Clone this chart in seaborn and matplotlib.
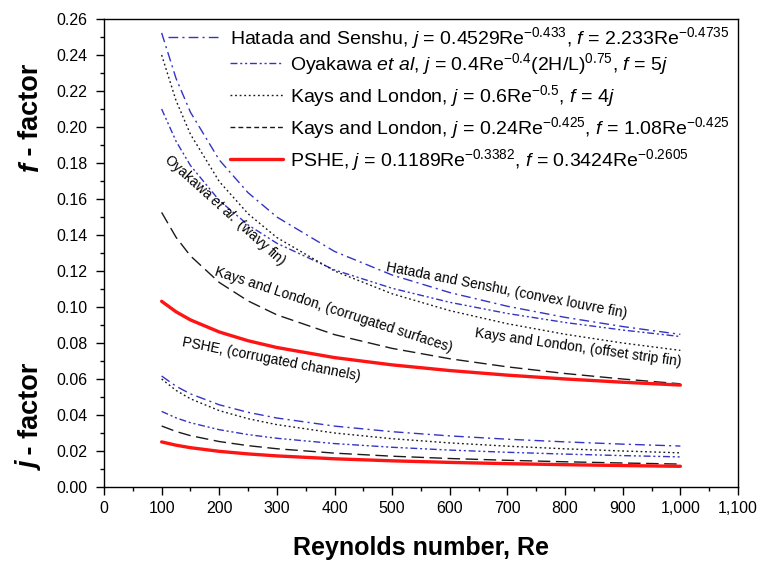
import matplotlib
matplotlib.use("Agg")
import matplotlib.pyplot as plt
import seaborn as sns
from matplotlib.ticker import MultipleLocator, FuncFormatter

# ---------------- data ----------------
Re = [100, 125, 150, 200, 250, 300, 400, 500, 600, 700, 800, 900, 1000]

hatada_j = [0.06166, 0.05598, 0.05174, 0.04567, 0.04147, 0.03832, 0.03383, 0.03072, 0.02838, 0.02655, 0.02506, 0.02381, 0.02275]
hatada_f = [0.25228, 0.22699, 0.20821, 0.18170, 0.16348, 0.14997, 0.13086, 0.11775, 0.10801, 0.10040, 0.09425, 0.08914, 0.08480]
oyakawa_j = [0.04200, 0.03841, 0.03571, 0.03183, 0.02911, 0.02707, 0.02412, 0.02207, 0.02051, 0.01928, 0.01828, 0.01744, 0.01672]
oyakawa_f = [0.2100, 0.1921, 0.1786, 0.1592, 0.1456, 0.1354, 0.1206, 0.1104, 0.1026, 0.0964, 0.0914, 0.0872, 0.0836]
kl_offset_j = [0.06000, 0.05367, 0.04899, 0.04243, 0.03795, 0.03464, 0.03000, 0.02683, 0.02449, 0.02268, 0.02121, 0.02000, 0.01897]
kl_offset_f = [0.24000, 0.21466, 0.19596, 0.16971, 0.15179, 0.13856, 0.12000, 0.10733, 0.09798, 0.09071, 0.08485, 0.08000, 0.07589]
kl_corr_j = [0.03390, 0.03083, 0.02853, 0.02525, 0.02297, 0.02125, 0.01881, 0.01711, 0.01583, 0.01483, 0.01401, 0.01333, 0.01274]
kl_corr_f = [0.15255, 0.13874, 0.12839, 0.11363, 0.10337, 0.09563, 0.08465, 0.07700, 0.07124, 0.06674, 0.06305, 0.05999, 0.05733]
pshe_j = [0.02505, 0.02323, 0.02184, 0.01981, 0.01838, 0.01728, 0.01567, 0.01454, 0.01367, 0.01297, 0.01240, 0.01191, 0.01150]
pshe_f = [0.10317, 0.09734, 0.09283, 0.08613, 0.08125, 0.07749, 0.07189, 0.06784, 0.06469, 0.06214, 0.06002, 0.05821, 0.05663]

legend_labels = [
    r"Hatada and Senshu, $j$ = 0.4529Re$^{-0.433}$, $f$ = 2.233Re$^{-0.4735}$",
    r"Oyakawa $et\ al$, $j$ = 0.4Re$^{-0.4}$(2H/L)$^{0.75}$, $f$ = 5$j$",
    r"Kays and London, $j$ = 0.6Re$^{-0.5}$, $f$ = 4$j$",
    r"Kays and London, $j$ = 0.24Re$^{-0.425}$, $f$ = 1.08Re$^{-0.425}$",
    r"PSHE, $j$ = 0.1189Re$^{-0.3382}$, $f$ = 0.3424Re$^{-0.2605}$",
]
curve_notes = [
    r"Hatada and Senshu, (convex louvre fin)",
    r"Oyakawa $et\ al.$ (wavy fin)",
    r"Kays and London, (offset strip fin)",
    r"Kays and London, (corrugated surfaces)",
    r"PSHE, (corrugated channels)",
]
x_ticks = [0, 100, 200, 300, 400, 500, 600, 700, 800, 900, 1000, 1100]

# ---------------- style ----------------
sns.set_theme(style="ticks")
plt.rcParams["font.family"] = ["Liberation Sans", "DejaVu Sans"]
plt.rcParams.update({
    "mathtext.fontset": "custom",
    "mathtext.rm": "Liberation Sans",
    "mathtext.it": "Liberation Sans:italic",
    "mathtext.bf": "Liberation Sans:bold",
    "axes.edgecolor": "black",
    "xtick.color": "black",
    "ytick.color": "black",
    "text.color": "black",
})

W, H = 763, 562
fig = plt.figure(figsize=(W / 100, H / 100), dpi=100)
ax = fig.add_axes([104 / W, 1 - 487 / H, 634 / W, 468 / H])

BLUE = "#3434c4"
BLACK = "#1a1a1a"
RED = "#ff1414"
series = [
    (hatada_j, hatada_f, BLUE, 1.0, (7, 3, 1.5, 3)),
    (oyakawa_j, oyakawa_f, BLUE, 1.0, (5, 2, 1.5, 2, 1.5, 2)),
    (kl_offset_j, kl_offset_f, BLACK, 1.0, (1.3, 2.0)),
    (kl_corr_j, kl_corr_f, BLACK, 1.0, (9, 4)),
    (pshe_j, pshe_f, RED, 2.4, None),
]

handles = []
for (jv, fv, col, lw, dsh), lab in zip(series, legend_labels):
    for vals in (jv, fv):
        sns.lineplot(x=Re, y=vals, ax=ax, color=col, linewidth=lw, legend=False)
        ln = ax.lines[-1]
        if dsh is not None:
            ln.set_dashes(dsh)
    ln.set_label(lab)
    handles.append(ln)

ax.set_xlim(0, 1100)
ax.set_ylim(0, 0.26)
ax.set_xticks(x_ticks)
ax.xaxis.set_minor_locator(MultipleLocator(50))
ax.yaxis.set_major_locator(MultipleLocator(0.02))
ax.yaxis.set_minor_locator(MultipleLocator(0.01))
ax.xaxis.set_major_formatter(FuncFormatter(lambda v, p: f"{int(round(v)):,}"))
ax.yaxis.set_major_formatter(FuncFormatter(lambda v, p: f"{v:.2f}"))
ax.tick_params(which="both", direction="out", top=False, right=False, width=1.0, labelsize=11.5)
ax.tick_params(which="major", length=6)
ax.tick_params(which="minor", length=3)
ax.tick_params(axis="x", which="major", pad=4)
ax.tick_params(axis="y", which="major", pad=6)
for sp in ax.spines.values():
    sp.set_visible(True)
    sp.set_linewidth(1.0)
    sp.set_color("black")
ax.set_xlabel("")
ax.set_ylabel("")

# legends
leg_fs = 14
leg1 = ax.legend(handles=handles[:1], loc="center left", bbox_to_anchor=(0.101, 0.9594),
                 frameon=False, fontsize=leg_fs, handlelength=2.68, handletextpad=0.52,
                 borderpad=0, borderaxespad=0)
ax.add_artist(leg1)
leg2 = ax.legend(handles=handles[1:], loc="center left", bbox_to_anchor=(0.1987, 0.8013),
                 frameon=False, fontsize=leg_fs, handlelength=2.73, handletextpad=0.36,
                 borderpad=0, borderaxespad=0, labelspacing=0.32)
# shorter dash sample for the corrugated-surface entry, as in the original key
leg2.get_lines()[2].set_dashes((3.5, 2.2))

# curve annotations
note_fs = 10
ax.text(699, 0.1094, curve_notes[0], rotation=-11, ha="center", va="center", fontsize=note_fs)
ax.text(210, 0.1539, curve_notes[1], rotation=-42, ha="center", va="center", fontsize=note_fs)
ax.text(822, 0.0772, curve_notes[2], rotation=-8, ha="center", va="center", fontsize=note_fs)
ax.text(399, 0.0983, curve_notes[3], rotation=-18, ha="center", va="center", fontsize=note_fs)
ax.text(291, 0.0706, curve_notes[4], rotation=-11, ha="center", va="center", fontsize=note_fs)

# axis titles
fig.text(421 / W, 1 - 548 / H, "Reynolds number, Re", ha="center", va="center",
         fontsize=18, fontweight="bold")
ylab_fs = 19.5
for letter, ybot in (("f", 172), ("j", 470)):
    t1 = fig.text(31 / W, 1 - ybot / H, letter, rotation=90, ha="center", va="bottom",
                  fontsize=ylab_fs, fontweight="bold", fontstyle="italic")
    ax.annotate(" - factor", xy=(0.5, 1.0), xycoords=t1, ha="center", va="bottom",
                rotation=90, fontsize=ylab_fs, fontweight="bold", annotation_clip=False)

fig.savefig("out.png", dpi=100)
